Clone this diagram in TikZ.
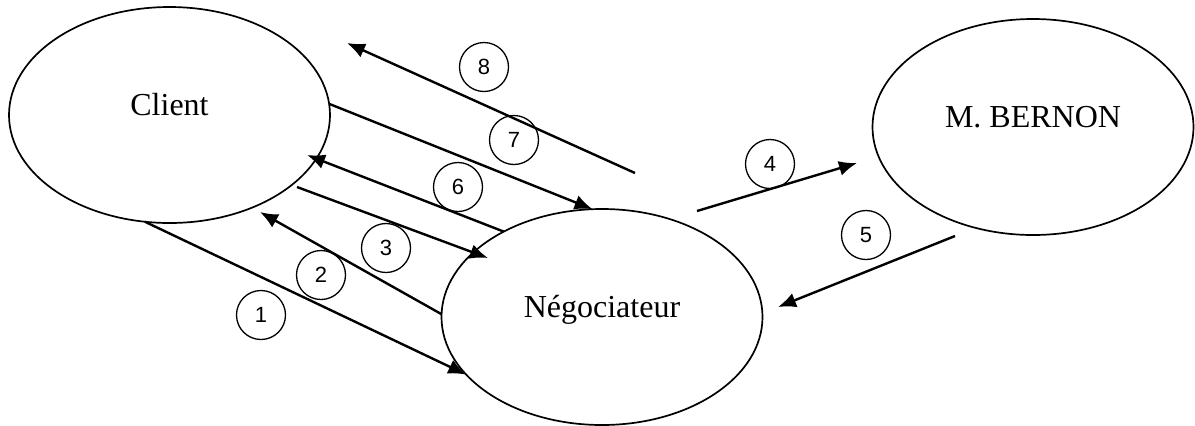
\documentclass[tikz,border=0pt]{standalone}
\usepackage{fontspec}
\setmainfont{Liberation Serif}
\newfontfamily\numfont{Liberation Sans}
\usetikzlibrary{shapes.geometric, arrows.meta}
\tikzstyle{party}=[ellipse, draw, line width=0.85pt, minimum width=160.5pt, minimum height=108pt, inner sep=0pt, outer sep=0pt]
\tikzstyle{partytext}=[text height=11pt, text depth=0pt, yshift=5.5pt]
\tikzstyle{num}=[circle, draw, line width=0.65pt, minimum size=24.5pt, inner sep=0pt, font=\numfont\fontsize{11}{13}\selectfont]
\tikzstyle{msg}=[-{Latex[length=9pt, width=7.5pt]}, line width=1.2pt]

\begin{document}
\begin{tikzpicture}[x=0.5pt, y=-0.5pt, font=\fontsize{16}{19}\selectfont]
    \useasboundingbox (0,0) rectangle (1195,425);
    % the three parties
    \node	[party, label={[partytext]center:Client}]		(client)	at (169.5,115)	{};
    \node	[party, label={[partytext]center:Négociateur}]	(nego)		at (602,317)	{};
    \node	[party, label={[partytext]center:M. BERNON}]	(bernon)	at (1033,127)	{};
    % step numbers
    \node	[num]	(n1)	at (261,315)	{1};
    \node	[num]	(n2)	at (321,275)	{2};
    \node	[num]	(n3)	at (386,248)	{3};
    \node	[num]	(n4)	at (770,164)	{4};
    \node	[num]	(n5)	at (866,235)	{5};
    \node	[num]	(n6)	at (458,187)	{6};
    \node	[num]	(n7)	at (514,140)	{7};
    \node	[num]	(n8)	at (484,67)	{8};
    % loose arrow ends
    \coordinate	(t2)	at (260,212);
    \coordinate	(s3)	at (297,187);
    \coordinate	(t3)	at (488,258);
    \coordinate	(s4)	at (697,211);
    \coordinate	(t4)	at (857,163);
    \coordinate	(s5)	at (955,236);
    \coordinate	(t5)	at (778,307);
    \coordinate	(t6)	at (307,155);
    \coordinate	(s8)	at (635,173);
    \coordinate	(t8)	at (347,43);
    \draw[msg] (client.-103)--(nego.203);
    \draw[msg] (nego.179)--(t2);
    \draw[msg] (s3)--(t3);
    \draw[msg] (s4)--(t4);
    \draw[msg] (s5)--(t5);
    \draw[msg] (nego.139)--(t6);
    \draw[msg] (client.4)--(nego.95);
    \draw[msg] (s8)--(t8);
\end{tikzpicture}
\end{document}
